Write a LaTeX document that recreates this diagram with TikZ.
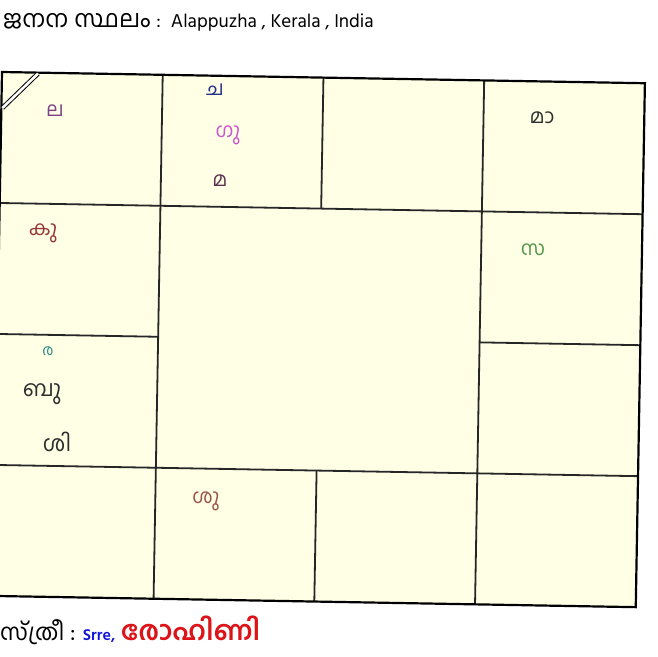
\documentclass[tikz,border=0pt]{standalone}
\usepackage{fontspec}
\setmainfont[Script=Malayalam]{Hind Kochi}
\usepackage{tikz}

\definecolor{chartbg}{RGB}{255,255,230}
\definecolor{lagnacol}{RGB}{125,65,135}
\definecolor{chandracol}{RGB}{40,50,140}
\definecolor{gurucol}{RGB}{205,85,205}
\definecolor{macol}{RGB}{95,45,80}
\definecolor{darkcol}{RGB}{45,45,45}
\definecolor{sarpacol}{RGB}{85,150,75}
\definecolor{kujacol}{RGB}{150,55,55}
\definecolor{ravicol}{RGB}{45,140,130}
\definecolor{sukracol}{RGB}{155,85,75}
\definecolor{nameblue}{RGB}{20,20,215}
\definecolor{namered}{RGB}{220,20,25}

\tikzset{
  planet/.style={inner sep=0pt, font=\fontsize{20}{20}\selectfont},
  gridline/.style={line width=1.8pt, black!85},
}

\begin{document}
\begin{tikzpicture}[x=1pt,y=-1pt]
			\useasboundingbox (0,0) rectangle (657,657);
			\clip (0,0) rectangle (657,657);
			\fill[white] (0,0) rectangle (657,657);
			% the rasi chart, a little tilted
			\begin{scope}[shift={(2,72)}, rotate=-1]
				\fill[chartbg] (0,0) rectangle (643,524);
				\draw[gridline] (160.75,0) -- (160.75,524);
				\draw[gridline] (482.25,0) -- (482.25,524);
				\draw[gridline] (321.5,0) -- (321.5,131);
				\draw[gridline] (321.5,393) -- (321.5,524);
				\draw[gridline] (0,131) -- (643,131);
				\draw[gridline] (0,393) -- (643,393);
				\draw[gridline] (0,262) -- (160.75,262);
				\draw[gridline] (482.25,262) -- (643,262);
				\draw[line width=2.2pt] (0,0) rectangle (643,524);
				\draw[double, double distance=2.6pt, line width=1pt] (1,36) -- (36,1);
			\end{scope}
			\node[anchor=west, inner sep=0pt, font=\fontsize{24}{24}\selectfont] (place) at (3,22)
				{ജനന സ്ഥലം\hspace{6pt}{\fontsize{19}{19}\selectfont :\hspace{10pt}Alappuzha , Kerala , India}};
			\node[planet, text=lagnacol] (lagnam) at (55,111) {ല};
			\node[planet, text=chandracol] (chandran) at (215,90) {ച};
			\node[planet, text=gurucol] (guru) at (228,135) {ഗു};
			\node[planet, text=macol] (ma) at (220,181) {മ};
			\node[planet, text=darkcol] (maandi) at (542,118) {മാ};
			\node[planet, text=sarpacol] (sarpam) at (533,250) {സ};
			\node[planet, text=kujacol] (kuja) at (43,233) {കു};
			\node[planet, text=ravicol, font=\fontsize{15}{15}\selectfont] (ravi) at (48,351) {ര};
			\node[planet, text=darkcol, font=\fontsize{22}{22}\selectfont] (budhan) at (42,394) {ബു};
			\node[planet, text=darkcol, font=\fontsize{22}{22}\selectfont] (sikhi) at (57,442) {ശി};
			\node[planet, text=sukracol] (sukran) at (206,501) {ശു};
			\node[anchor=west, inner sep=0pt, font=\fontsize{23}{23}\selectfont] (stree) at (0,630)
				{സ്ത്രീ : {\fontsize{16}{16}\selectfont\bfseries\color{nameblue}Srre,}
				{\fontsize{27}{27}\selectfont\bfseries\color{namered}രോഹിണി}};
\end{tikzpicture}
\end{document}
